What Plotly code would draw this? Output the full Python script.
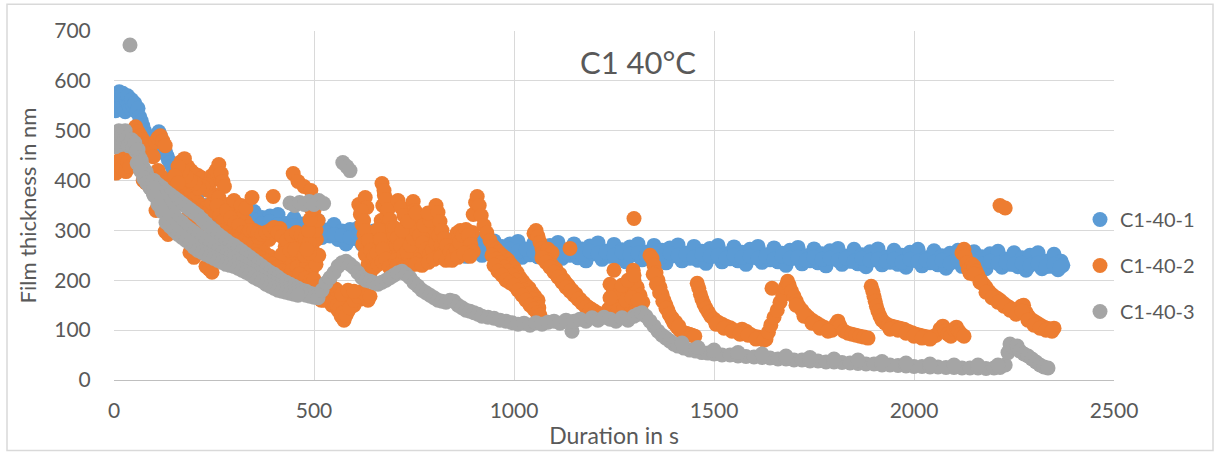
import plotly.graph_objects as go

# Series data: (duration in s, film thickness in nm)
c1_40_1 = [
    (4,540),(7,572),(10,560),(13,578),(16,548),(19,565),(22,575),(25,550),(28,538),(31,560),(34,570),
    (37,552),(40,545),(44,562),(48,548),(52,555),(56,538),(60,545),(64,528),(68,520),(72,510),(76,500),
    (80,492),(84,482),(88,470),(92,465),(96,458),(100,468),(104,478),(108,492),(112,498),(116,490),
    (120,480),(124,468),(128,458),(132,450),(136,442),(140,436),(145,428),
    (150,416),(160,380),(170,390),(180,358),(190,380),(200,356),(210,374),(220,338),(230,350),(240,336),
    (155,395),(165,385),(175,370),(185,365),(195,352),(205,345),(215,345),(225,336),
    (250,356),(260,326),(270,342),(280,315),(290,342),(300,324),(310,345),(320,312),(330,327),(340,316),
    (350,338),(360,309),(370,326),(380,300),(390,329),(400,311),(410,332),(420,299),(430,314),(440,303),
    (450,325),(460,296),(470,313),(480,288),(490,317),(500,299),(510,320),(520,286),(530,301),(540,289),
    (550,312),(560,282),(570,299),(580,273),(590,302),(600,284),(610,305),(620,272),(630,287),(640,276),
    (650,299),(660,270),(670,287),(680,261),(690,290),(700,273),(710,294),(720,262),(730,277),(740,266),
    (750,290),(760,261),(770,278),(780,254),(790,283),(800,266),(810,288),(820,255),(830,271),(840,260),
    (850,284),(860,255),(870,273),(880,248),(890,278),(900,261),(910,283),(920,250),(930,266),(940,255),
    (950,279),(960,250),(970,268),(980,243),(990,273),(1000,256),(1010,278),(1020,246),(1030,262),(1040,251),
    (1050,275),(1060,247),(1070,265),(1080,241),(1090,270),(1100,254),(1110,276),(1120,244),(1130,260),(1140,250),
    (1150,273),(1160,245),(1170,263),(1180,239),(1190,269),(1200,253),(1210,275),(1220,242),(1230,258),(1240,248),
    (1250,272),(1260,244),(1270,261),(1280,237),(1290,267),(1300,251),(1310,273),(1320,241),(1330,256),(1340,246),
    (1350,270),(1360,242),(1370,260),(1380,235),(1390,265),(1400,249),(1410,271),(1420,239),(1430,254),(1440,244),
    (1450,268),(1460,240),(1470,258),(1480,234),(1490,264),(1500,248),(1510,270),(1520,237),(1530,253),(1540,243),
    (1550,267),(1560,239),(1570,256),(1580,232),(1590,262),(1600,246),(1610,268),(1620,236),(1630,251),(1640,241),
    (1650,265),(1660,237),(1670,254),(1680,230),(1690,260),(1700,244),(1710,266),(1720,233),(1730,249),(1740,239),
    (1750,263),(1760,235),(1770,253),(1780,229),(1790,259),(1800,243),(1810,264),(1820,232),(1830,248),(1840,238),
    (1850,262),(1860,233),(1870,251),(1880,227),(1890,257),(1900,241),(1910,263),(1920,231),(1930,246),(1940,236),
    (1950,260),(1960,232),(1970,250),(1980,226),(1990,256),(2000,240),(2010,262),(2020,229),(2030,245),(2040,235),
    (2050,259),(2060,231),(2070,249),(2080,224),(2090,254),(2100,238),(2110,260),(2120,228),(2130,244),(2140,234),
    (2150,257),(2160,229),(2170,247),(2180,223),(2190,253),(2200,237),(2210,258),(2220,226),(2230,242),(2240,232),
    (2250,255),(2260,227),(2270,245),(2280,220),(2290,250),(2300,234),(2310,255),(2320,223),(2330,238),(2340,228),
    (2350,252),(2360,221),(2368,238),(2372,230),
    (250,344),(270,330),(290,326),(310,330),(330,318),(350,322),(370,314),(390,318),(410,312),(430,308),
    (450,310),(470,302),(490,306),(510,298),(530,296),(550,292),(570,290),(590,286),(610,290),(630,282),
    (650,284),(670,278),(690,280),(710,276),(730,272),(750,276),(770,268),(790,272),(810,266),(830,268),
    (850,264),(870,266),(890,262),(910,266),(930,258),(950,264),(970,256),(990,262),(1010,258),(1030,262),
    (1050,256),(1070,260),(1090,254),(1110,260),(1130,256),(1150,258),(1170,252),(1190,258),(1210,254),
    (1230,256),(1250,250),(1270,256),(1290,252),(1310,254),(1330,250),(1350,254),(1370,248),(1390,254),
    (1410,250),(1430,252),(1450,246),(1470,252),(1490,248),(1510,250),(1530,244),(1550,250),(1570,246),
    (1590,248),(1610,244),(1630,248),(1650,242),(1670,248),(1690,244),(1710,246),(1730,240),(1750,246),
    (1770,242),(1790,244),(1810,240),(1830,244),(1850,238),(1870,244),(1890,240),(1910,242),(1930,238),
    (1950,242),(1970,236),(1990,242),(2010,238),(2030,240),(2050,236),(2070,240),(2090,234),(2110,240),
    (2130,236),(2150,238),(2170,232),(2190,238),(2210,234),(2230,236),(2250,232),(2270,234),(2290,230),
    (2310,234),(2330,228),(2350,232),(2365,226),
]

c1_40_2 = [
    (5,415),(10,432),(15,442),(20,425),(25,446),(30,418),(35,438),(40,428),
    (48,500),(54,508),(60,498),(66,490),(72,482),(78,472),(85,462),(92,455),(98,448),
    (104,478),(110,486),(116,490),(122,480),(128,470),
    (73,400),(80,395),(105,340),(110,420),(118,408),(125,396),(132,385),(140,388),(150,380),(158,372),
    (128,298),(135,292),
    (168,438),(176,444),(184,428),(192,420),(200,414),(210,410),(220,405),(228,398),
    (170,376),(180,386),(190,370),(200,362),(210,356),(220,350),(230,345),
    (145,375),(155,368),(165,362),(175,356),(185,350),(195,345),(205,340),(215,335),(225,330),(235,325),
    (240,340),(245,355),(250,372),(235,380),(240,395),(245,410),(250,405),(232,392),(222,388),(212,384),
    (202,395),(190,400),(180,408),(170,420),(160,428),(152,410),(160,395),
    (188,330),(196,318),(204,308),(212,330),(216,312),
    (190,256),(196,262),(200,246),(230,228),(238,222),(245,216),
    (255,420),(262,432),(268,414),(272,398),(276,388),
    (262,366),(270,345),(278,328),(288,312),(298,302),(308,294),(318,304),(328,318),(336,308),
    (285,352),(300,340),(314,332),
    (258,350),(265,330),(272,318),(282,340),(292,325),(302,315),(312,310),(322,296),(332,290),(342,284),
    (268,300),(280,295),(295,288),(310,282),(325,280),(338,276),(300,360),(318,350),(330,345),
    (345,366),(398,368),(448,414),(460,398),(475,388),
    (340,300),(350,274),(362,264),(376,256),(390,248),(404,240),(418,232),(432,226),(446,236),(458,250),(468,234),
    (444,212),(458,206),(472,216),(484,240),(496,262),(506,282),
    (415,304),(402,292),(388,282),(428,268),(448,276),(466,270),(420,252),(396,226),(376,240),(362,286),
    (350,300),(360,296),(370,292),(380,296),(390,300),(400,306),(410,296),(420,288),(432,280),(444,290),
    (456,296),(468,290),(478,284),(488,276),(355,250),(368,244),(382,238),(395,232),(408,226),(420,218),
    (432,212),(445,220),(458,226),(470,222),(482,230),(494,220),(505,232),(512,250),(505,300),(510,320),
    (500,340),(492,380),(440,260),(452,262),(476,250),(488,255),(464,212),(478,204),(490,198),
    (486,300),(490,322),(494,342),(482,262),(500,202),(505,186),(496,362),
    (515,172),(525,160),(535,180),(545,150),(552,166),(560,140),(568,128),(575,120),(585,138),(595,156),
    (605,172),(615,162),(625,172),(635,160),(545,186),(560,176),(590,170),(600,150),(580,160),
    (520,180),(530,170),(540,165),(550,155),(558,150),(565,145),(572,135),(580,130),(590,145),(600,160),
    (610,168),(620,178),(630,170),(640,168),(555,182),(570,172),(585,180),(600,178),(540,190),(528,188),
    (518,160),
    (612,352),(616,332),(620,312),(625,292),(628,366),(632,346),(622,272),(628,252),(635,232),(640,214),
    (648,240),(656,266),(662,298),
    (618,340),(624,320),(630,300),(636,280),(642,260),(650,250),(658,255),(664,290),(668,320),(672,350),
    (676,370),(682,330),(688,300),(692,280),(698,260),(650,225),(660,232),(670,238),(685,252),(690,238),
    (670,394),(675,380),(680,362),(685,342),(690,322),(695,305),
    (660,302),(666,282),(672,262),(680,242),(688,226),(695,218),
    (700,290),(706,270),(712,250),(720,262),(728,280),(735,298),(742,285),(750,272),(758,260),(765,248),
    (772,262),(780,276),(788,290),(795,305),(800,322),
    (710,360),(718,346),(725,330),(732,312),(740,296),
    (748,358),(752,340),(758,322),(765,302),(770,286),
    (705,240),(715,232),(730,238),(745,246),(760,240),(775,244),
    (702,305),(708,285),(716,270),(724,250),(732,258),(740,270),(748,285),(756,300),(764,290),(772,275),
    (780,262),(788,250),(796,262),(804,275),(812,290),(818,270),(826,258),(834,248),(842,268),(850,282),
    (858,295),(866,300),(874,280),(882,268),(890,282),(896,296),(708,230),(722,225),(738,228),(754,232),
    (770,230),(786,236),(800,242),(816,246),(830,240),(720,300),(735,318),(755,335),(775,310),(790,320),
    (785,335),
    (805,350),(810,336),(815,318),(820,300),(826,284),(832,270),(840,258),(848,250),(856,262),(864,276),
    (872,290),(880,302),(886,290),(892,272),(898,258),
    (845,240),(860,246),(875,254),(890,248),
    (898,332),(904,356),(908,368),(913,350),(918,330),(925,310),(932,295),(940,280),(948,268),(955,262),
    (962,256),(970,250),(978,245),(985,240),(992,232),(1000,225),(1008,215),(1015,205),(1022,198),(1030,190),
    (1038,184),(1045,175),(1052,168),(1060,160),
    (945,250),(955,242),(965,235),(975,226),(985,218),(995,210),(1005,200),(1015,190),(1025,180),(1035,172),
    (1045,162),(1055,152),(1062,145),
    (950,230),(960,218),(970,210),(980,200),(990,195),(1000,190),(1010,180),(1020,170),(1030,160),(1040,150),
    (1050,142),(1058,135),(1065,130),
    (1050,294),(1055,300),(1060,288),(1065,276),(1070,264),(1076,252),(1082,242),(1090,234),(1098,226),
    (1106,218),(1114,210),(1122,202),(1130,194),(1138,186),(1146,178),(1154,170),(1162,162),(1170,156),
    (1178,150),(1186,146),(1194,142),(1202,138),(1210,134),
    (1072,255),(1085,262),(1095,255),(1085,240),(1095,230),(1105,222),(1115,212),(1125,200),(1135,190),
    (1145,180),(1155,172),(1165,162),(1175,154),(1185,146),(1195,140),(1205,134),
    (1070,245),(1080,236),(1090,226),(1100,216),(1110,206),(1120,196),(1130,186),(1140,178),(1150,170),
    (1160,162),(1170,154),(1180,146),(1190,140),(1200,134),(1208,130),(1215,128),
    (1140,264),
    (1250,220),(1298,220),(1300,324),(1240,192),(1248,176),(1255,166),(1262,156),(1270,162),(1278,172),
    (1285,182),(1292,192),(1300,200),(1308,186),(1315,170),(1322,156),(1236,142),(1245,152),(1260,140),
    (1275,146),(1290,152),(1305,146),(1318,140),
    (1250,185),(1265,175),(1280,160),(1295,165),(1310,160),(1270,190),(1285,200),(1300,210),(1240,165),
    (1340,250),(1345,244),(1350,230),(1355,215),(1360,200),(1365,186),(1370,172),(1375,160),(1380,150),
    (1385,140),(1390,130),(1395,122),(1400,114),(1408,106),(1415,100),(1422,96),(1430,94),(1438,92),
    (1445,90),(1452,88),
    (1348,212),(1356,192),(1364,175),(1372,158),(1380,144),(1388,132),(1396,124),(1404,116),(1412,108),
    (1458,194),(1462,184),(1466,172),(1470,162),(1475,152),(1480,144),(1486,136),(1492,128),(1500,122),
    (1510,116),(1520,112),(1530,108),(1540,105),(1550,100),(1560,96),(1570,102),(1580,98),(1590,92),
    (1600,88),(1610,86),(1620,84),(1630,82),
    (1505,112),(1525,104),(1545,98),(1565,92),(1585,90),(1605,82),(1625,80),
    (1645,184),
    (1636,96),(1642,110),(1650,126),(1658,140),(1665,156),(1672,170),(1678,186),(1684,198),(1688,190),
    (1694,178),(1700,168),(1706,158),(1712,148),(1720,140),(1728,132),(1736,126),(1745,120),(1755,115),
    (1765,110),(1775,106),(1785,102),(1795,100),(1805,112),(1810,118),(1815,108),(1825,98),(1835,94),
    (1845,92),(1855,90),(1865,88),(1875,86),(1885,84),
    (1705,150),(1725,128),(1745,114),(1765,104),(1785,98),
    (1893,188),(1897,178),(1900,168),(1903,158),(1906,148),(1910,138),(1915,128),(1920,120),(1928,114),
    (1936,110),(1945,108),(1955,106),(1965,104),(1975,102),(1985,98),(1995,95),(2005,92),(2015,90),
    (2025,88),(2035,86),(2045,86),(2055,90),(2065,102),(2072,108),(2078,98),(2085,92),(2092,88),
    (2100,102),(2106,106),(2112,98),(2118,92),(2125,88),
    (1940,102),(1960,100),(1980,94),(2000,88),(2020,84),(2040,82),
    (2120,255),(2125,262),(2128,248),(2132,235),(2136,222),(2140,214),(2145,232),(2150,228),(2155,218),
    (2160,210),(2167,200),(2174,192),(2180,186),(2187,178),(2194,172),(2200,168),(2208,164),(2215,160),
    (2222,155),(2230,150),(2238,146),(2245,142),(2252,138),(2260,135),(2268,148),(2274,150),(2280,136),
    (2286,128),(2292,122),(2300,118),(2308,114),(2316,110),(2325,106),(2333,104),(2342,102),(2350,104),
    (2150,212),(2165,196),(2180,176),(2195,165),(2210,156),(2225,148),(2240,140),(2255,132),(2270,138),
    (2285,120),(2300,110),(2315,104),(2330,100),(2345,98),
    (2215,350),(2228,345),
]

c1_40_3 = [
    (4,468),(8,488),(12,500),(16,472),(20,492),(24,478),(28,500),(32,486),(36,470),(40,672),(44,482),
    (48,466),(52,476),(56,458),(60,462),(64,446),(68,440),(72,428),(76,420),(80,418),(84,408),(88,404),
    (92,398),(96,392),(58,435),(66,420),(74,405),(82,395),(90,385),(98,375),
    (100,400),(110,392),(120,386),(130,378),(140,372),(150,366),(160,360),(170,354),(180,348),(190,342),
    (200,336),(210,330),(220,322),(230,314),(240,306),(250,300),(260,292),(270,286),(280,280),(290,274),
    (300,270),(310,264),(320,258),(330,252),(340,246),(350,240),(360,234),(370,228),(380,222),(390,216),
    (400,212),(410,206),(420,200),(430,196),(440,192),(450,188),(460,184),(470,180),(480,178),(490,174),
    (500,172),(510,170),
    (100,385),(110,372),(120,362),(130,348),(140,340),(150,332),(160,322),(170,316),(180,308),(190,302),
    (200,296),(210,290),(220,284),(230,278),(240,272),(250,266),(260,260),(270,255),(280,250),(290,246),
    (300,244),(310,238),(320,234),(330,228),(340,222),(350,218),(360,212),(370,206),(380,200),(390,196),
    (400,192),(410,188),(420,186),(430,182),(440,180),(450,178),(460,176),(470,174),(480,170),(490,168),
    (500,166),(510,165),
    (100,370),(110,352),(120,338),(130,316),(140,308),(150,300),(160,292),(170,286),(180,280),(190,274),
    (200,266),(210,260),(220,256),(230,252),(240,248),(250,244),(260,240),(270,236),(280,232),(290,230),
    (300,228),(310,224),(320,220),(330,216),(340,212),(350,206),(360,202),(370,198),(380,192),(390,188),
    (400,184),(410,180),(420,178),(430,176),(440,174),(450,172),(460,170),
    (440,355),(452,350),(464,356),(476,352),(488,358),(500,352),(512,360),(524,354),
    (572,436),(582,428),(590,420),
    (520,180),(530,195),(540,205),(550,215),(560,228),(570,235),(580,238),(590,232),(600,225),(610,215),
    (620,205),(630,200),(640,198),(650,195),(660,192),(670,196),(680,200),(690,205),(700,210),(710,215),
    (720,218),(730,212),(740,205),(750,195),(760,188),(770,180),(780,175),(790,170),(800,165),(810,160),
    (820,158),(830,156),(840,160),(850,158),(860,150),(870,145),(880,140),(890,138),(900,135),(910,132),
    (920,128),(935,126),(950,124),(965,120),(980,118),(995,115),(1010,112),(1025,114),(1040,110),
    (1055,115),(1070,112),(1085,116),(1100,118),(1115,114),(1130,120),(1145,98),(1150,118),(1165,122),
    (1180,118),(1195,125),(1210,120),(1225,126),(1240,122),(1255,118),(1270,125),(1285,120),(1300,128),
    (1310,132),(1320,135),(1330,128),(1340,118),(1350,108),(1360,98),(1370,90),(1380,84),(1390,78),
    (1400,72),(1410,68),(1425,64),(1440,60),(1455,58),(1470,55),(1485,54),(1500,52),(1520,50),(1540,50),
    (1560,48),(1580,47),(1600,46),(1620,45),(1640,44),(1660,42),(1680,42),(1700,40),(1720,40),(1740,38),
    (1760,38),(1780,36),(1800,36),(1820,35),(1840,34),(1860,33),(1880,32),(1900,32),(1920,30),(1940,30),
    (1960,29),(1980,28),(2000,27),(2020,27),(2040,26),(2060,26),(2080,25),(2100,25),(2120,24),(2140,24),
    (2160,24),(2180,23),(2200,24),(2215,25),(2228,30),(2235,55),(2240,72),(2250,65),(2258,68),(2265,58),
    (2275,52),(2285,48),(2295,42),(2305,36),(2315,30),(2325,26),(2335,24),
    (1420,74),(1460,65),(1500,60),(1560,55),(1620,52),(1680,48),(1740,45),(1800,42),(1860,40),(1920,37),
    (1980,34),(2040,32),(2100,30),(2160,30),(2210,30),
]

series_names = ["C1-40-1", "C1-40-2", "C1-40-3"]
series_colors = ["#5B9BD5", "#ED7D31", "#A5A5A5"]
x_ticks = [0, 500, 1000, 1500, 2000, 2500]
y_ticks = [0, 100, 200, 300, 400, 500, 600, 700]

FONT = "Lato, 'Open Sans', sans-serif"
TXT = "#595959"

fig = go.Figure()
for name, color, pts in zip(series_names, series_colors, [c1_40_1, c1_40_2, c1_40_3]):
    xs = [p[0] for p in pts]
    ys = [p[1] for p in pts]
    fig.add_trace(go.Scatter(
        x=xs, y=ys, mode="markers", name=name, legendgroup=name,
        marker=dict(color=color, size=15, line=dict(width=0)),
    ))

fig.update_layout(
    width=1217, height=456,
    margin=dict(l=114, r=103, t=31, b=74),
    paper_bgcolor="white", plot_bgcolor="white",
    font=dict(family=FONT, color=TXT, size=21),
    title=dict(text="C1 40°C", font=dict(family=FONT, size=31, color=TXT),
               x=0.524, xref="paper", xanchor="center",
               y=1 - 63 / 456, yref="container", yanchor="middle"),
    showlegend=True,
    legend=dict(x=0.966, xanchor="left", y=0.328, yanchor="middle",
                font=dict(family=FONT, size=20, color=TXT),
                bgcolor="rgba(0,0,0,0)", tracegroupgap=17, itemclick=False),
    xaxis=dict(range=[0, 2500], tickvals=x_ticks, showgrid=True, gridcolor="#D9D9D9", gridwidth=1,
               zeroline=False, showline=True, linecolor="#BFBFBF", linewidth=1,
               ticks="outside", ticklen=12, tickcolor="rgba(0,0,0,0)",
               tickfont=dict(family=FONT, size=21, color=TXT),
               title=dict(text="Duration in s", font=dict(family=FONT, size=23, color=TXT), standoff=6)),
    yaxis=dict(range=[0, 700], tickvals=y_ticks, showgrid=True, gridcolor="#D9D9D9", gridwidth=1,
               zeroline=False, showline=False,
               ticks="outside", ticklen=18, tickcolor="rgba(0,0,0,0)",
               tickfont=dict(family=FONT, size=21, color=TXT),
               title=dict(text="Film thickness in nm", font=dict(family=FONT, size=22, color=TXT), standoff=11)),
    shapes=[dict(type="rect", xref="paper", yref="paper",
                 x0=(7 - 114) / 1000, x1=(1213 - 114) / 1000,
                 y0=(382 - 453) / 351, y1=(382 - 4) / 351,
                 line=dict(color="#D9D9D9", width=1.5), fillcolor="rgba(0,0,0,0)", layer="below")],
)

fig.write_html("out.html", config={"displayModeBar": False},
               post_script="document.body.style.margin='0';")
